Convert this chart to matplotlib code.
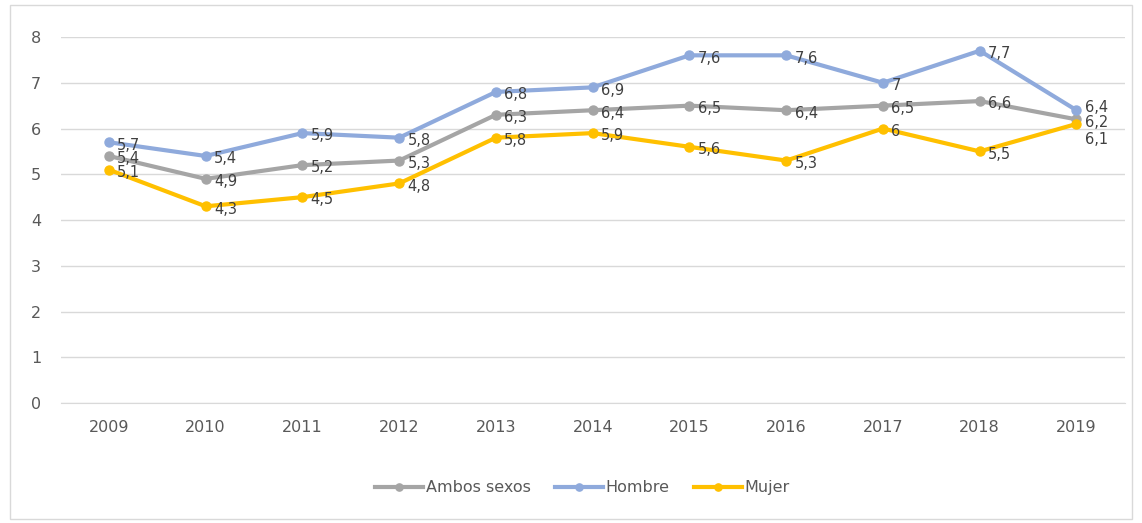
import matplotlib
matplotlib.use("Agg")
import matplotlib.pyplot as plt
from matplotlib.patches import Rectangle

years = ["2009", "2010", "2011", "2012", "2013", "2014", "2015", "2016", "2017", "2018", "2019"]
ambos = [5.4, 4.9, 5.2, 5.3, 6.3, 6.4, 6.5, 6.4, 6.5, 6.6, 6.2]
hombre = [5.7, 5.4, 5.9, 5.8, 6.8, 6.9, 7.6, 7.6, 7.0, 7.7, 6.4]
mujer = [5.1, 4.3, 4.5, 4.8, 5.8, 5.9, 5.6, 5.3, 6.0, 5.5, 6.1]

series = [("Ambos sexos", ambos, "#A5A5A5"),
          ("Hombre", hombre, "#8FAADC"),
          ("Mujer", mujer, "#FFC000")]
# small vertical nudges for crowded last-point labels (points)
last_nudge = {"Ambos sexos": 0, "Hombre": 4, "Mujer": -9}

fig = plt.figure(figsize=(11.42, 5.23), dpi=100)
fig.patches.append(Rectangle((0.009, 0.008), 0.982, 0.982, transform=fig.transFigure,
                             fill=False, edgecolor="#D9D9D9", linewidth=1))
ax = fig.add_axes([0.053, 0.2294, 0.932, 0.6998])

x = list(range(len(years)))
for name, vals, col in series:
    ax.plot(x, vals, color=col, linewidth=3, marker="o", markersize=6.5, label=name, zorder=3)
    for xi, v in zip(x, vals):
        s = ("%g" % v).replace(".", ",")
        dy = -2 + (last_nudge[name] if xi == len(x) - 1 else 0)
        ax.annotate(s, (xi, v), xytext=(6, dy), textcoords="offset points",
                    ha="left", va="center", fontsize=10.5, color="#404040", zorder=4)

ax.set_xlim(-0.5, len(years) - 0.5)
ax.set_ylim(0, 8)
ax.set_yticks(range(0, 9))
ax.set_xticks(x)
ax.set_xticklabels(years)
ax.grid(axis="y", color="#D9D9D9", linewidth=1)
ax.set_axisbelow(True)
for sp in ["top", "right", "left"]:
    ax.spines[sp].set_visible(False)
ax.spines["bottom"].set_color("#D9D9D9")
ax.tick_params(axis="both", length=0, labelsize=11.5, colors="#595959", pad=14)
ax.tick_params(axis="x", pad=12)

leg = fig.legend(loc="center", bbox_to_anchor=(0.51, 0.067), ncol=3, frameon=False,
                 fontsize=11.5, handlelength=3, columnspacing=1.5, handletextpad=0.2,
                 markerscale=0.8)
for t in leg.get_texts():
    t.set_color("#595959")

fig.savefig("out.png", dpi=100)
